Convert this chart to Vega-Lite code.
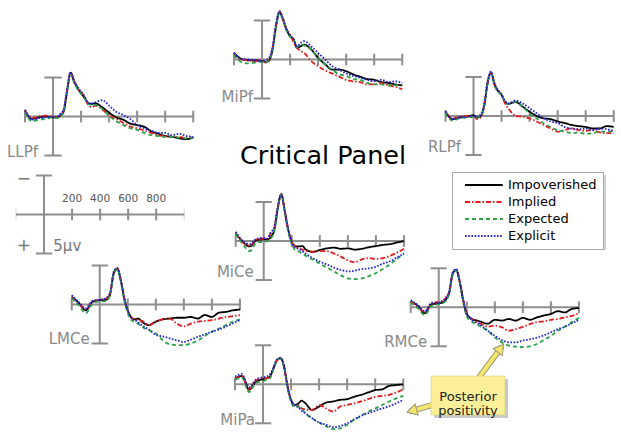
{
"$schema":"https://vega.github.io/schema/vega-lite/v6.json",
"width":621,"height":442,"padding":0,"autosize":{"type":"none"},
"config":{"view":{"stroke":null},"font":"DejaVu Sans","text":{"font":"DejaVu Sans"},"line":{"strokeWidth":1.8,"interpolate":"monotone"}},
"datasets":{
"ticks":[{"t":-200},{"t":200},{"t":400},{"t":600},{"t":800},{"t":1000}],
"erp":[
{"p":"LLPf","t":-200,"Impoverished":-0.8,"Implied":-0.7,"Expected":-0.6,"Explicit":-0.9},
{"p":"LLPf","t":-150,"Impoverished":0.3,"Implied":0.2,"Expected":0.6,"Explicit":0.4},
{"p":"LLPf","t":-100,"Impoverished":0.1,"Implied":0.0,"Expected":0.4,"Explicit":0.2},
{"p":"LLPf","t":-50,"Impoverished":0.0,"Implied":-0.1,"Expected":0.3,"Explicit":0.1},
{"p":"LLPf","t":0,"Impoverished":0.1,"Implied":0.0,"Expected":0.1,"Explicit":0.0},
{"p":"LLPf","t":25,"Impoverished":0.1,"Implied":0.1,"Expected":0.2,"Explicit":0.0},
{"p":"LLPf","t":50,"Impoverished":-0.1,"Implied":-0.2,"Expected":0.0,"Explicit":-0.3},
{"p":"LLPf","t":75,"Impoverished":-0.6,"Implied":-0.8,"Expected":-0.5,"Explicit":-0.9},
{"p":"LLPf","t":100,"Impoverished":-3.2,"Implied":-3.3,"Expected":-3.1,"Explicit":-3.5},
{"p":"LLPf","t":125,"Impoverished":-5.6,"Implied":-5.6,"Expected":-5.4,"Explicit":-5.7},
{"p":"LLPf","t":150,"Impoverished":-4.5,"Implied":-4.7,"Expected":-4.4,"Explicit":-4.6},
{"p":"LLPf","t":175,"Impoverished":-3.6,"Implied":-3.7,"Expected":-3.5,"Explicit":-3.8},
{"p":"LLPf","t":200,"Impoverished":-3.0,"Implied":-3.1,"Expected":-2.9,"Explicit":-3.2},
{"p":"LLPf","t":225,"Impoverished":-2.4,"Implied":-2.6,"Expected":-2.3,"Explicit":-2.6},
{"p":"LLPf","t":250,"Impoverished":-1.7,"Implied":-1.5,"Expected":-1.6,"Explicit":-1.8},
{"p":"LLPf","t":275,"Impoverished":-1.6,"Implied":-1.2,"Expected":-1.5,"Explicit":-1.7},
{"p":"LLPf","t":300,"Impoverished":-1.7,"Implied":-1.4,"Expected":-1.5,"Explicit":-1.8},
{"p":"LLPf","t":350,"Impoverished":-1.2,"Implied":-0.9,"Expected":-1.0,"Explicit":-2.1},
{"p":"LLPf","t":400,"Impoverished":-0.5,"Implied":-0.2,"Expected":-0.1,"Explicit":-1.4},
{"p":"LLPf","t":450,"Impoverished":0.1,"Implied":0.3,"Expected":0.6,"Explicit":-0.6},
{"p":"LLPf","t":500,"Impoverished":0.4,"Implied":0.8,"Expected":1.1,"Explicit":-0.2},
{"p":"LLPf","t":550,"Impoverished":0.9,"Implied":1.3,"Expected":1.5,"Explicit":0.3},
{"p":"LLPf","t":600,"Impoverished":1.1,"Implied":1.5,"Expected":1.7,"Explicit":1.1},
{"p":"LLPf","t":650,"Impoverished":1.3,"Implied":1.8,"Expected":2.1,"Explicit":1.5},
{"p":"LLPf","t":700,"Impoverished":1.9,"Implied":2.1,"Expected":2.4,"Explicit":1.8},
{"p":"LLPf","t":750,"Impoverished":2.2,"Implied":2.4,"Expected":2.5,"Explicit":2.1},
{"p":"LLPf","t":800,"Impoverished":2.5,"Implied":2.5,"Expected":2.6,"Explicit":2.1},
{"p":"LLPf","t":850,"Impoverished":2.6,"Implied":2.6,"Expected":2.6,"Explicit":2.4},
{"p":"LLPf","t":900,"Impoverished":2.8,"Implied":2.6,"Expected":2.7,"Explicit":2.2},
{"p":"LLPf","t":950,"Impoverished":2.9,"Implied":2.8,"Expected":2.8,"Explicit":2.5},
{"p":"LLPf","t":1000,"Impoverished":2.7,"Implied":2.6,"Expected":2.7,"Explicit":2.6},
{"p":"MiPf","t":-200,"Impoverished":-0.85,"Implied":-0.8,"Expected":-0.6,"Explicit":-0.9},
{"p":"MiPf","t":-150,"Impoverished":-0.1,"Implied":0.0,"Expected":0.3,"Explicit":-0.1},
{"p":"MiPf","t":-100,"Impoverished":0.1,"Implied":0.1,"Expected":0.5,"Explicit":0.0},
{"p":"MiPf","t":-50,"Impoverished":0.1,"Implied":0.2,"Expected":0.4,"Explicit":0.1},
{"p":"MiPf","t":0,"Impoverished":0.2,"Implied":0.1,"Expected":0.3,"Explicit":0.2},
{"p":"MiPf","t":25,"Impoverished":0.3,"Implied":0.4,"Expected":0.3,"Explicit":0.1},
{"p":"MiPf","t":50,"Impoverished":0.1,"Implied":0.0,"Expected":0.2,"Explicit":-0.2},
{"p":"MiPf","t":75,"Impoverished":-1.3,"Implied":-1.4,"Expected":-1.2,"Explicit":-1.6},
{"p":"MiPf","t":100,"Impoverished":-4.3,"Implied":-4.4,"Expected":-4.2,"Explicit":-4.6},
{"p":"MiPf","t":125,"Impoverished":-6.1,"Implied":-6.0,"Expected":-6.0,"Explicit":-6.2},
{"p":"MiPf","t":150,"Impoverished":-5.1,"Implied":-5.2,"Expected":-5.0,"Explicit":-5.2},
{"p":"MiPf","t":175,"Impoverished":-3.8,"Implied":-3.9,"Expected":-3.7,"Explicit":-3.9},
{"p":"MiPf","t":200,"Impoverished":-3.0,"Implied":-3.2,"Expected":-2.9,"Explicit":-3.1},
{"p":"MiPf","t":225,"Impoverished":-2.6,"Implied":-2.2,"Expected":-2.5,"Explicit":-2.6},
{"p":"MiPf","t":250,"Impoverished":-1.5,"Implied":-1.5,"Expected":-1.6,"Explicit":-1.7},
{"p":"MiPf","t":275,"Impoverished":-1.7,"Implied":-1.1,"Expected":-1.9,"Explicit":-2.1},
{"p":"MiPf","t":300,"Impoverished":-1.9,"Implied":-0.85,"Expected":-1.8,"Explicit":-2.35},
{"p":"MiPf","t":350,"Impoverished":-1.3,"Implied":0.2,"Expected":-1.3,"Explicit":-1.7},
{"p":"MiPf","t":400,"Impoverished":-0.2,"Implied":0.85,"Expected":-0.2,"Explicit":-0.85},
{"p":"MiPf","t":450,"Impoverished":0.6,"Implied":1.4,"Expected":0.6,"Explicit":0.0},
{"p":"MiPf","t":500,"Impoverished":1.3,"Implied":1.8,"Expected":1.3,"Explicit":0.85},
{"p":"MiPf","t":550,"Impoverished":1.3,"Implied":2.2,"Expected":1.9,"Explicit":1.3},
{"p":"MiPf","t":600,"Impoverished":1.5,"Implied":2.6,"Expected":2.1,"Explicit":1.8},
{"p":"MiPf","t":650,"Impoverished":1.9,"Implied":2.8,"Expected":2.5,"Explicit":2.1},
{"p":"MiPf","t":700,"Impoverished":2.2,"Implied":2.9,"Expected":2.6,"Explicit":2.35},
{"p":"MiPf","t":750,"Impoverished":2.5,"Implied":3.2,"Expected":3.0,"Explicit":2.6},
{"p":"MiPf","t":800,"Impoverished":2.6,"Implied":3.2,"Expected":3.2,"Explicit":2.8},
{"p":"MiPf","t":850,"Impoverished":2.9,"Implied":3.0,"Expected":3.2,"Explicit":2.6},
{"p":"MiPf","t":900,"Impoverished":3.0,"Implied":3.3,"Expected":3.3,"Explicit":2.9},
{"p":"MiPf","t":950,"Impoverished":3.2,"Implied":3.5,"Expected":3.3,"Explicit":2.8},
{"p":"MiPf","t":1000,"Impoverished":3.3,"Implied":3.8,"Expected":3.4,"Explicit":3.0},
{"p":"RLPf","t":-200,"Impoverished":-0.55,"Implied":-0.5,"Expected":-0.4,"Explicit":-0.6},
{"p":"RLPf","t":-150,"Impoverished":0.4,"Implied":0.3,"Expected":0.6,"Explicit":0.4},
{"p":"RLPf","t":-100,"Impoverished":0.2,"Implied":0.1,"Expected":0.3,"Explicit":0.2},
{"p":"RLPf","t":-50,"Impoverished":0.1,"Implied":0.0,"Expected":0.2,"Explicit":0.1},
{"p":"RLPf","t":0,"Impoverished":-0.1,"Implied":0.0,"Expected":0.1,"Explicit":0.0},
{"p":"RLPf","t":25,"Impoverished":0.2,"Implied":0.4,"Expected":0.2,"Explicit":0.1},
{"p":"RLPf","t":50,"Impoverished":0.0,"Implied":0.2,"Expected":0.0,"Explicit":-0.2},
{"p":"RLPf","t":75,"Impoverished":-1.2,"Implied":-1.3,"Expected":-1.1,"Explicit":-1.4},
{"p":"RLPf","t":100,"Impoverished":-4.2,"Implied":-4.3,"Expected":-4.1,"Explicit":-4.4},
{"p":"RLPf","t":125,"Impoverished":-5.6,"Implied":-5.5,"Expected":-5.5,"Explicit":-5.7},
{"p":"RLPf","t":150,"Impoverished":-4.0,"Implied":-4.2,"Expected":-3.9,"Explicit":-4.1},
{"p":"RLPf","t":175,"Impoverished":-3.2,"Implied":-3.3,"Expected":-3.1,"Explicit":-3.3},
{"p":"RLPf","t":200,"Impoverished":-2.7,"Implied":-2.6,"Expected":-2.7,"Explicit":-2.8},
{"p":"RLPf","t":225,"Impoverished":-1.8,"Implied":-1.6,"Expected":-1.8,"Explicit":-1.9},
{"p":"RLPf","t":250,"Impoverished":-1.55,"Implied":-0.9,"Expected":-1.55,"Explicit":-1.6},
{"p":"RLPf","t":275,"Impoverished":-1.7,"Implied":-0.4,"Expected":-1.6,"Explicit":-1.8},
{"p":"RLPf","t":300,"Impoverished":-1.8,"Implied":0.0,"Expected":-1.8,"Explicit":-2.0},
{"p":"RLPf","t":350,"Impoverished":-1.2,"Implied":0.1,"Expected":-1.2,"Explicit":-1.6},
{"p":"RLPf","t":400,"Impoverished":-0.55,"Implied":0.3,"Expected":-0.35,"Explicit":-1.0},
{"p":"RLPf","t":450,"Impoverished":0.0,"Implied":0.7,"Expected":0.3,"Explicit":-0.35},
{"p":"RLPf","t":500,"Impoverished":0.3,"Implied":1.15,"Expected":0.95,"Explicit":0.3},
{"p":"RLPf","t":550,"Impoverished":0.4,"Implied":1.6,"Expected":1.4,"Explicit":0.7},
{"p":"RLPf","t":600,"Impoverished":0.7,"Implied":2.0,"Expected":1.8,"Explicit":0.9},
{"p":"RLPf","t":650,"Impoverished":0.9,"Implied":1.8,"Expected":2.0,"Explicit":1.4},
{"p":"RLPf","t":700,"Impoverished":1.15,"Implied":1.6,"Expected":2.2,"Explicit":1.6},
{"p":"RLPf","t":750,"Impoverished":1.3,"Implied":1.8,"Expected":2.1,"Explicit":1.7},
{"p":"RLPf","t":800,"Impoverished":1.4,"Implied":1.9,"Expected":2.3,"Explicit":1.6},
{"p":"RLPf","t":850,"Impoverished":1.6,"Implied":1.8,"Expected":2.2,"Explicit":1.8},
{"p":"RLPf","t":900,"Impoverished":1.6,"Implied":2.1,"Expected":2.0,"Explicit":1.6},
{"p":"RLPf","t":950,"Impoverished":1.3,"Implied":2.2,"Expected":2.0,"Explicit":1.7},
{"p":"RLPf","t":1000,"Impoverished":1.4,"Implied":2.2,"Expected":1.9,"Explicit":1.9},
{"p":"MiCe","t":-200,"Impoverished":-1.0,"Implied":-1.0,"Expected":-0.9,"Explicit":-1.2},
{"p":"MiCe","t":-150,"Impoverished":0.1,"Implied":0.2,"Expected":0.4,"Explicit":0.0},
{"p":"MiCe","t":-100,"Impoverished":0.7,"Implied":0.6,"Expected":1.3,"Explicit":0.4},
{"p":"MiCe","t":-50,"Impoverished":-0.1,"Implied":-0.2,"Expected":0.2,"Explicit":-0.3},
{"p":"MiCe","t":0,"Impoverished":-0.2,"Implied":-0.3,"Expected":0.1,"Explicit":-0.4},
{"p":"MiCe","t":25,"Impoverished":-0.2,"Implied":-0.3,"Expected":0.0,"Explicit":-0.3},
{"p":"MiCe","t":50,"Impoverished":-0.5,"Implied":-1.0,"Expected":-0.3,"Explicit":-1.1},
{"p":"MiCe","t":75,"Impoverished":-1.4,"Implied":-1.6,"Expected":-1.3,"Explicit":-1.8},
{"p":"MiCe","t":100,"Impoverished":-4.2,"Implied":-4.3,"Expected":-4.1,"Explicit":-4.4},
{"p":"MiCe","t":125,"Impoverished":-6.0,"Implied":-6.0,"Expected":-5.9,"Explicit":-6.0},
{"p":"MiCe","t":150,"Impoverished":-3.8,"Implied":-3.9,"Expected":-3.7,"Explicit":-3.8},
{"p":"MiCe","t":175,"Impoverished":-1.4,"Implied":-1.5,"Expected":-1.2,"Explicit":-1.4},
{"p":"MiCe","t":200,"Impoverished":0.1,"Implied":0.1,"Expected":0.4,"Explicit":0.2},
{"p":"MiCe","t":225,"Impoverished":0.7,"Implied":0.7,"Expected":1.15,"Explicit":0.8},
{"p":"MiCe","t":250,"Impoverished":0.7,"Implied":0.95,"Expected":1.35,"Explicit":1.0},
{"p":"MiCe","t":275,"Impoverished":0.65,"Implied":1.1,"Expected":1.6,"Explicit":1.3},
{"p":"MiCe","t":300,"Impoverished":1.1,"Implied":1.25,"Expected":1.9,"Explicit":1.65},
{"p":"MiCe","t":350,"Impoverished":1.4,"Implied":1.35,"Expected":2.4,"Explicit":2.2},
{"p":"MiCe","t":400,"Impoverished":1.15,"Implied":1.3,"Expected":2.9,"Explicit":2.65},
{"p":"MiCe","t":450,"Impoverished":0.95,"Implied":1.3,"Expected":3.4,"Explicit":3.0},
{"p":"MiCe","t":500,"Impoverished":0.85,"Implied":1.6,"Expected":3.9,"Explicit":3.4},
{"p":"MiCe","t":550,"Impoverished":1.0,"Implied":2.0,"Expected":4.4,"Explicit":3.7},
{"p":"MiCe","t":600,"Impoverished":0.95,"Implied":2.5,"Expected":4.8,"Explicit":3.9},
{"p":"MiCe","t":650,"Impoverished":1.1,"Implied":2.7,"Expected":4.9,"Explicit":3.8},
{"p":"MiCe","t":700,"Impoverished":1.0,"Implied":2.35,"Expected":4.8,"Explicit":3.6},
{"p":"MiCe","t":750,"Impoverished":0.8,"Implied":2.2,"Expected":4.5,"Explicit":3.5},
{"p":"MiCe","t":800,"Impoverished":0.65,"Implied":2.3,"Expected":4.1,"Explicit":3.3},
{"p":"MiCe","t":850,"Impoverished":0.5,"Implied":2.2,"Expected":3.6,"Explicit":2.9},
{"p":"MiCe","t":900,"Impoverished":0.4,"Implied":1.9,"Expected":3.0,"Explicit":2.6},
{"p":"MiCe","t":950,"Impoverished":0.2,"Implied":1.5,"Expected":2.3,"Explicit":2.1},
{"p":"MiCe","t":1000,"Impoverished":0.0,"Implied":1.0,"Expected":1.6,"Explicit":1.6},
{"p":"LMCe","t":-200,"Impoverished":-1.0,"Implied":-0.9,"Expected":-0.8,"Explicit":-1.2},
{"p":"LMCe","t":-150,"Impoverished":-0.2,"Implied":-0.1,"Expected":0.1,"Explicit":-0.3},
{"p":"LMCe","t":-100,"Impoverished":0.75,"Implied":0.6,"Expected":1.1,"Explicit":0.5},
{"p":"LMCe","t":-50,"Impoverished":-0.35,"Implied":-0.4,"Expected":-0.1,"Explicit":-0.5},
{"p":"LMCe","t":0,"Impoverished":-0.55,"Implied":-0.6,"Expected":-0.4,"Explicit":-0.6},
{"p":"LMCe","t":25,"Impoverished":-0.55,"Implied":-0.7,"Expected":-0.4,"Explicit":-0.7},
{"p":"LMCe","t":50,"Impoverished":-0.65,"Implied":-0.8,"Expected":-0.5,"Explicit":-0.9},
{"p":"LMCe","t":75,"Impoverished":-1.4,"Implied":-1.5,"Expected":-1.3,"Explicit":-1.6},
{"p":"LMCe","t":100,"Impoverished":-4.0,"Implied":-4.1,"Expected":-3.9,"Explicit":-4.2},
{"p":"LMCe","t":125,"Impoverished":-4.6,"Implied":-4.6,"Expected":-4.5,"Explicit":-4.7},
{"p":"LMCe","t":150,"Impoverished":-3.1,"Implied":-3.2,"Expected":-3.0,"Explicit":-3.2},
{"p":"LMCe","t":175,"Impoverished":-0.75,"Implied":-0.8,"Expected":-0.5,"Explicit":-0.8},
{"p":"LMCe","t":200,"Impoverished":0.75,"Implied":0.8,"Expected":1.1,"Explicit":0.8},
{"p":"LMCe","t":225,"Impoverished":1.65,"Implied":1.7,"Expected":2.0,"Explicit":1.7},
{"p":"LMCe","t":250,"Impoverished":1.9,"Implied":1.9,"Expected":2.2,"Explicit":2.0},
{"p":"LMCe","t":275,"Impoverished":1.8,"Implied":2.0,"Expected":2.5,"Explicit":2.3},
{"p":"LMCe","t":300,"Impoverished":2.2,"Implied":2.1,"Expected":2.85,"Explicit":2.65},
{"p":"LMCe","t":350,"Impoverished":2.65,"Implied":2.65,"Expected":3.3,"Explicit":3.2},
{"p":"LMCe","t":400,"Impoverished":2.2,"Implied":2.2,"Expected":3.7,"Explicit":3.9},
{"p":"LMCe","t":450,"Impoverished":1.9,"Implied":1.9,"Expected":4.6,"Explicit":4.1},
{"p":"LMCe","t":500,"Impoverished":1.8,"Implied":1.8,"Expected":5.1,"Explicit":4.35},
{"p":"LMCe","t":550,"Impoverished":1.7,"Implied":2.45,"Expected":5.2,"Explicit":4.6},
{"p":"LMCe","t":600,"Impoverished":1.7,"Implied":2.8,"Expected":5.2,"Explicit":4.8},
{"p":"LMCe","t":650,"Impoverished":1.6,"Implied":2.45,"Expected":5.0,"Explicit":4.5},
{"p":"LMCe","t":700,"Impoverished":1.8,"Implied":2.2,"Expected":4.6,"Explicit":4.15},
{"p":"LMCe","t":750,"Impoverished":1.35,"Implied":2.1,"Expected":4.05,"Explicit":3.8},
{"p":"LMCe","t":800,"Impoverished":1.6,"Implied":2.0,"Expected":3.5,"Explicit":3.5},
{"p":"LMCe","t":850,"Impoverished":1.05,"Implied":1.8,"Expected":3.1,"Explicit":3.2},
{"p":"LMCe","t":900,"Impoverished":0.95,"Implied":1.6,"Expected":2.65,"Explicit":2.85},
{"p":"LMCe","t":950,"Impoverished":0.75,"Implied":1.5,"Expected":2.2,"Explicit":2.4},
{"p":"LMCe","t":1000,"Impoverished":0.65,"Implied":1.35,"Expected":1.9,"Explicit":2.0},
{"p":"RMCe","t":-200,"Impoverished":-0.75,"Implied":-0.7,"Expected":-0.6,"Explicit":-0.9},
{"p":"RMCe","t":-150,"Impoverished":-0.2,"Implied":-0.1,"Expected":0.1,"Explicit":-0.3},
{"p":"RMCe","t":-100,"Impoverished":0.75,"Implied":0.6,"Expected":1.0,"Explicit":0.5},
{"p":"RMCe","t":-50,"Impoverished":-0.4,"Implied":-0.5,"Expected":-0.2,"Explicit":-0.6},
{"p":"RMCe","t":0,"Impoverished":-0.5,"Implied":-0.7,"Expected":-0.4,"Explicit":-0.6},
{"p":"RMCe","t":25,"Impoverished":-0.6,"Implied":-0.8,"Expected":-0.5,"Explicit":-0.8},
{"p":"RMCe","t":50,"Impoverished":-0.95,"Implied":-1.2,"Expected":-0.8,"Explicit":-1.2},
{"p":"RMCe","t":75,"Impoverished":-1.9,"Implied":-2.0,"Expected":-1.8,"Explicit":-2.1},
{"p":"RMCe","t":100,"Impoverished":-4.3,"Implied":-4.4,"Expected":-4.2,"Explicit":-4.5},
{"p":"RMCe","t":125,"Impoverished":-4.8,"Implied":-4.8,"Expected":-4.7,"Explicit":-4.9},
{"p":"RMCe","t":150,"Impoverished":-3.2,"Implied":-3.3,"Expected":-3.1,"Explicit":-3.3},
{"p":"RMCe","t":175,"Impoverished":-0.85,"Implied":-0.9,"Expected":-0.6,"Explicit":-0.9},
{"p":"RMCe","t":200,"Impoverished":0.85,"Implied":0.9,"Expected":1.2,"Explicit":0.9},
{"p":"RMCe","t":225,"Impoverished":1.35,"Implied":1.4,"Expected":1.7,"Explicit":1.4},
{"p":"RMCe","t":250,"Impoverished":1.6,"Implied":1.7,"Expected":2.0,"Explicit":1.8},
{"p":"RMCe","t":275,"Impoverished":1.7,"Implied":1.9,"Expected":2.2,"Explicit":2.0},
{"p":"RMCe","t":300,"Impoverished":1.85,"Implied":2.1,"Expected":2.5,"Explicit":2.3},
{"p":"RMCe","t":350,"Impoverished":2.1,"Implied":2.5,"Expected":3.0,"Explicit":3.0},
{"p":"RMCe","t":400,"Impoverished":1.6,"Implied":2.35,"Expected":3.85,"Explicit":3.65},
{"p":"RMCe","t":450,"Impoverished":1.7,"Implied":2.55,"Expected":4.5,"Explicit":4.2},
{"p":"RMCe","t":500,"Impoverished":1.5,"Implied":3.0,"Expected":4.9,"Explicit":4.5},
{"p":"RMCe","t":550,"Impoverished":1.7,"Implied":2.8,"Expected":5.05,"Explicit":4.5},
{"p":"RMCe","t":600,"Impoverished":1.35,"Implied":2.5,"Expected":5.1,"Explicit":4.25},
{"p":"RMCe","t":650,"Impoverished":1.6,"Implied":2.15,"Expected":5.0,"Explicit":4.1},
{"p":"RMCe","t":700,"Impoverished":1.3,"Implied":1.9,"Expected":4.7,"Explicit":3.9},
{"p":"RMCe","t":750,"Impoverished":1.05,"Implied":1.8,"Expected":4.2,"Explicit":3.6},
{"p":"RMCe","t":800,"Impoverished":0.85,"Implied":1.6,"Expected":3.65,"Explicit":3.2},
{"p":"RMCe","t":850,"Impoverished":0.5,"Implied":1.5,"Expected":3.0,"Explicit":2.8},
{"p":"RMCe","t":900,"Impoverished":0.65,"Implied":1.3,"Expected":2.5,"Explicit":2.5},
{"p":"RMCe","t":950,"Impoverished":0.2,"Implied":1.1,"Expected":1.9,"Explicit":2.05},
{"p":"RMCe","t":1000,"Impoverished":0.1,"Implied":0.75,"Expected":1.35,"Explicit":1.6},
{"p":"MiPa","t":-200,"Impoverished":-0.75,"Implied":-0.7,"Expected":-0.6,"Explicit":-1.0},
{"p":"MiPa","t":-150,"Impoverished":-1.05,"Implied":-1.0,"Expected":-0.8,"Explicit":-1.3},
{"p":"MiPa","t":-100,"Impoverished":0.7,"Implied":0.6,"Expected":1.0,"Explicit":0.4},
{"p":"MiPa","t":-50,"Impoverished":-0.35,"Implied":-0.5,"Expected":-0.2,"Explicit":-0.6},
{"p":"MiPa","t":0,"Impoverished":-0.65,"Implied":-0.8,"Expected":-0.4,"Explicit":-0.9},
{"p":"MiPa","t":25,"Impoverished":-0.75,"Implied":-0.8,"Expected":-0.6,"Explicit":-1.0},
{"p":"MiPa","t":50,"Impoverished":-1.0,"Implied":-1.1,"Expected":-0.8,"Explicit":-1.3},
{"p":"MiPa","t":75,"Impoverished":-2.05,"Implied":-2.1,"Expected":-2.0,"Explicit":-2.2},
{"p":"MiPa","t":100,"Impoverished":-3.1,"Implied":-3.1,"Expected":-3.0,"Explicit":-3.2},
{"p":"MiPa","t":125,"Impoverished":-3.35,"Implied":-3.3,"Expected":-3.3,"Explicit":-3.4},
{"p":"MiPa","t":150,"Impoverished":-2.25,"Implied":-2.3,"Expected":-2.2,"Explicit":-2.3},
{"p":"MiPa","t":175,"Impoverished":0.3,"Implied":0.3,"Expected":0.5,"Explicit":0.3},
{"p":"MiPa","t":200,"Impoverished":2.0,"Implied":2.0,"Expected":2.3,"Explicit":2.0},
{"p":"MiPa","t":225,"Impoverished":2.65,"Implied":2.7,"Expected":2.9,"Explicit":2.7},
{"p":"MiPa","t":250,"Impoverished":2.5,"Implied":2.7,"Expected":2.9,"Explicit":2.9},
{"p":"MiPa","t":275,"Impoverished":2.1,"Implied":3.1,"Expected":3.1,"Explicit":3.4},
{"p":"MiPa","t":300,"Impoverished":2.4,"Implied":3.2,"Expected":3.7,"Explicit":3.7},
{"p":"MiPa","t":350,"Impoverished":3.3,"Implied":3.3,"Expected":4.35,"Explicit":4.35},
{"p":"MiPa","t":400,"Impoverished":2.85,"Implied":2.65,"Expected":4.9,"Explicit":4.9},
{"p":"MiPa","t":450,"Impoverished":2.35,"Implied":3.1,"Expected":5.4,"Explicit":5.2},
{"p":"MiPa","t":500,"Impoverished":2.2,"Implied":3.5,"Expected":5.75,"Explicit":5.5},
{"p":"MiPa","t":550,"Impoverished":2.0,"Implied":2.85,"Expected":5.65,"Explicit":5.35},
{"p":"MiPa","t":600,"Impoverished":1.9,"Implied":2.65,"Expected":5.2,"Explicit":5.0},
{"p":"MiPa","t":650,"Impoverished":1.6,"Implied":2.45,"Expected":4.55,"Explicit":4.5},
{"p":"MiPa","t":700,"Impoverished":1.35,"Implied":2.2,"Expected":4.05,"Explicit":4.05},
{"p":"MiPa","t":750,"Impoverished":1.05,"Implied":1.9,"Expected":3.5,"Explicit":3.7},
{"p":"MiPa","t":800,"Impoverished":0.75,"Implied":1.6,"Expected":3.1,"Explicit":3.4},
{"p":"MiPa","t":850,"Impoverished":0.65,"Implied":1.5,"Expected":2.65,"Explicit":3.1},
{"p":"MiPa","t":900,"Impoverished":0.2,"Implied":1.35,"Expected":2.2,"Explicit":2.8},
{"p":"MiPa","t":950,"Impoverished":0.1,"Implied":1.05,"Expected":1.8,"Explicit":2.45},
{"p":"MiPa","t":1000,"Impoverished":0.0,"Implied":0.65,"Expected":1.5,"Explicit":2.0}
]},
"resolve":{"scale":{"x":"independent","y":"independent"}},
"layer":[
{"data":{"values":[{}]},"layer":[
 {"data":{"name":"ticks"},"mark":{"type":"rule","color":"#8e8e8e","strokeWidth":2},"encoding":{"x":{"field":"t","type":"quantitative","scale":{"domain":[-378.3,4051.1],"nice":false,"zero":false},"axis":null},"y":{"datum":-0.75,"scale":{"domain":[-14.94,41.73],"reverse":true,"nice":false,"zero":false},"axis":null},"y2":{"datum":0.75}}},
 {"mark":{"type":"rule","color":"#8e8e8e","strokeWidth":2},"encoding":{"x":{"datum":-200,"scale":{"domain":[-378.3,4051.1],"nice":false,"zero":false},"axis":null},"x2":{"datum":1000},"y":{"datum":0,"scale":{"domain":[-14.94,41.73],"reverse":true,"nice":false,"zero":false},"axis":null}}},
 {"mark":{"type":"rule","color":"#8e8e8e","strokeWidth":2},"encoding":{"x":{"datum":0,"scale":{"domain":[-378.3,4051.1],"nice":false,"zero":false},"axis":null},"y":{"datum":-5,"scale":{"domain":[-14.94,41.73],"reverse":true,"nice":false,"zero":false},"axis":null},"y2":{"datum":5}}},
 {"mark":{"type":"rule","color":"#8e8e8e","strokeWidth":2},"encoding":{"x":{"datum":-62,"scale":{"domain":[-378.3,4051.1],"nice":false,"zero":false},"axis":null},"x2":{"datum":62},"y":{"datum":-5,"scale":{"domain":[-14.94,41.73],"reverse":true,"nice":false,"zero":false},"axis":null}}},
 {"mark":{"type":"rule","color":"#8e8e8e","strokeWidth":2},"encoding":{"x":{"datum":-62,"scale":{"domain":[-378.3,4051.1],"nice":false,"zero":false},"axis":null},"x2":{"datum":62},"y":{"datum":5,"scale":{"domain":[-14.94,41.73],"reverse":true,"nice":false,"zero":false},"axis":null}}},
 {"mark":{"type":"text","text":"LLPf","align":"right","baseline":"alphabetic","dx":-15,"dy":1,"fontSize":15,"color":"#8a8a8a"},"encoding":{"x":{"datum":0,"scale":{"domain":[-378.3,4051.1],"nice":false,"zero":false},"axis":null},"y":{"datum":5,"scale":{"domain":[-14.94,41.73],"reverse":true,"nice":false,"zero":false},"axis":null}}},
 {"data":{"name":"erp"},"transform":[{"filter":"datum.p === 'LLPf'"},{"fold":["Impoverished","Implied","Expected","Explicit"],"as":["cond","uv"]}],"mark":{"type":"line"},"encoding":{"x":{"field":"t","type":"quantitative","scale":{"domain":[-378.3,4051.1],"nice":false,"zero":false},"axis":null},"y":{"field":"uv","type":"quantitative","scale":{"domain":[-14.94,41.73],"reverse":true,"nice":false,"zero":false},"axis":null},"color":{"field":"cond","type":"nominal","scale":{"domain":["Impoverished","Implied","Expected","Explicit"],"range":["#000000","#e41a1c","#2ca048","#1f24d6"]},"legend":{"title":null,"orient":"none","legendX":452,"legendY":172,"padding":6,"strokeColor":"#a8a8a8","fillColor":"#ffffff","symbolType":"M0,0H6.3","symbolSize":144,"symbolStrokeWidth":1.8,"labelFontSize":13,"labelColor":"#000000","labelFont":"DejaVu Sans","labelOffset":36,"rowPadding":3}},"strokeDash":{"field":"cond","type":"nominal","scale":{"domain":["Impoverished","Implied","Expected","Explicit"],"range":[[1,0],[5,2,1.5,2],[4,3],[1.6,1.6]]},"legend":{"title":null,"orient":"none","legendX":452,"legendY":172,"padding":6,"strokeColor":"#a8a8a8","fillColor":"#ffffff","symbolType":"M0,0H6.3","symbolSize":144,"symbolStrokeWidth":1.8,"labelFontSize":13,"labelColor":"#000000","labelFont":"DejaVu Sans","labelOffset":36,"rowPadding":3}}}}
]},
{"data":{"values":[{}]},"layer":[
 {"data":{"name":"ticks"},"mark":{"type":"rule","color":"#8e8e8e","strokeWidth":2},"encoding":{"x":{"field":"t","type":"quantitative","scale":{"domain":[-1869.0,2560.3],"nice":false,"zero":false},"axis":null},"y":{"datum":-0.75,"scale":{"domain":[-7.63,49.04],"reverse":true,"nice":false,"zero":false},"axis":null},"y2":{"datum":0.75}}},
 {"mark":{"type":"rule","color":"#8e8e8e","strokeWidth":2},"encoding":{"x":{"datum":-200,"scale":{"domain":[-1869.0,2560.3],"nice":false,"zero":false},"axis":null},"x2":{"datum":1000},"y":{"datum":0,"scale":{"domain":[-7.63,49.04],"reverse":true,"nice":false,"zero":false},"axis":null}}},
 {"mark":{"type":"rule","color":"#8e8e8e","strokeWidth":2},"encoding":{"x":{"datum":0,"scale":{"domain":[-1869.0,2560.3],"nice":false,"zero":false},"axis":null},"y":{"datum":-5,"scale":{"domain":[-7.63,49.04],"reverse":true,"nice":false,"zero":false},"axis":null},"y2":{"datum":5}}},
 {"mark":{"type":"rule","color":"#8e8e8e","strokeWidth":2},"encoding":{"x":{"datum":-58,"scale":{"domain":[-1869.0,2560.3],"nice":false,"zero":false},"axis":null},"x2":{"datum":58},"y":{"datum":-5,"scale":{"domain":[-7.63,49.04],"reverse":true,"nice":false,"zero":false},"axis":null}}},
 {"mark":{"type":"rule","color":"#8e8e8e","strokeWidth":2},"encoding":{"x":{"datum":-58,"scale":{"domain":[-1869.0,2560.3],"nice":false,"zero":false},"axis":null},"x2":{"datum":58},"y":{"datum":5,"scale":{"domain":[-7.63,49.04],"reverse":true,"nice":false,"zero":false},"axis":null}}},
 {"mark":{"type":"text","text":"MiPf","align":"right","baseline":"alphabetic","dx":-9,"dy":3,"fontSize":15,"color":"#8a8a8a"},"encoding":{"x":{"datum":0,"scale":{"domain":[-1869.0,2560.3],"nice":false,"zero":false},"axis":null},"y":{"datum":5,"scale":{"domain":[-7.63,49.04],"reverse":true,"nice":false,"zero":false},"axis":null}}},
 {"data":{"name":"erp"},"transform":[{"filter":"datum.p === 'MiPf'"},{"fold":["Impoverished","Implied","Expected","Explicit"],"as":["cond","uv"]}],"mark":{"type":"line"},"encoding":{"x":{"field":"t","type":"quantitative","scale":{"domain":[-1869.0,2560.3],"nice":false,"zero":false},"axis":null},"y":{"field":"uv","type":"quantitative","scale":{"domain":[-7.63,49.04],"reverse":true,"nice":false,"zero":false},"axis":null},"color":{"field":"cond","type":"nominal","scale":{"domain":["Impoverished","Implied","Expected","Explicit"],"range":["#000000","#e41a1c","#2ca048","#1f24d6"]},"legend":{"title":null,"orient":"none","legendX":452,"legendY":172,"padding":6,"strokeColor":"#a8a8a8","fillColor":"#ffffff","symbolType":"M0,0H6.3","symbolSize":144,"symbolStrokeWidth":1.8,"labelFontSize":13,"labelColor":"#000000","labelFont":"DejaVu Sans","labelOffset":36,"rowPadding":3}},"strokeDash":{"field":"cond","type":"nominal","scale":{"domain":["Impoverished","Implied","Expected","Explicit"],"range":[[1,0],[5,2,1.5,2],[4,3],[1.6,1.6]]},"legend":{"title":null,"orient":"none","legendX":452,"legendY":172,"padding":6,"strokeColor":"#a8a8a8","fillColor":"#ffffff","symbolType":"M0,0H6.3","symbolSize":144,"symbolStrokeWidth":1.8,"labelFontSize":13,"labelColor":"#000000","labelFont":"DejaVu Sans","labelOffset":36,"rowPadding":3}}}}
]},
{"data":{"values":[{}]},"layer":[
 {"mark":{"type":"rect","color":"#c4c4c4","opacity":0.8},"encoding":{"x":{"datum":-132,"scale":{"domain":[-3377.6,1051.8],"nice":false,"zero":false},"axis":null},"x2":{"datum":945.8},"y":{"datum":7.56,"scale":{"domain":[-14.87,41.79],"reverse":true,"nice":false,"zero":false},"axis":null},"y2":{"datum":17.18}}},
 {"data":{"name":"ticks"},"mark":{"type":"rule","color":"#8e8e8e","strokeWidth":2},"encoding":{"x":{"field":"t","type":"quantitative","scale":{"domain":[-3377.6,1051.8],"nice":false,"zero":false},"axis":null},"y":{"datum":-0.75,"scale":{"domain":[-14.87,41.79],"reverse":true,"nice":false,"zero":false},"axis":null},"y2":{"datum":0.75}}},
 {"mark":{"type":"rule","color":"#8e8e8e","strokeWidth":2},"encoding":{"x":{"datum":-200,"scale":{"domain":[-3377.6,1051.8],"nice":false,"zero":false},"axis":null},"x2":{"datum":1000},"y":{"datum":0,"scale":{"domain":[-14.87,41.79],"reverse":true,"nice":false,"zero":false},"axis":null}}},
 {"mark":{"type":"rule","color":"#8e8e8e","strokeWidth":2},"encoding":{"x":{"datum":0,"scale":{"domain":[-3377.6,1051.8],"nice":false,"zero":false},"axis":null},"y":{"datum":-5,"scale":{"domain":[-14.87,41.79],"reverse":true,"nice":false,"zero":false},"axis":null},"y2":{"datum":5}}},
 {"mark":{"type":"rule","color":"#8e8e8e","strokeWidth":2},"encoding":{"x":{"datum":-58,"scale":{"domain":[-3377.6,1051.8],"nice":false,"zero":false},"axis":null},"x2":{"datum":58},"y":{"datum":-5,"scale":{"domain":[-14.87,41.79],"reverse":true,"nice":false,"zero":false},"axis":null}}},
 {"mark":{"type":"rule","color":"#8e8e8e","strokeWidth":2},"encoding":{"x":{"datum":-58,"scale":{"domain":[-3377.6,1051.8],"nice":false,"zero":false},"axis":null},"x2":{"datum":58},"y":{"datum":5,"scale":{"domain":[-14.87,41.79],"reverse":true,"nice":false,"zero":false},"axis":null}}},
 {"mark":{"type":"text","text":"RLPf","align":"right","baseline":"alphabetic","dx":-12.5,"dy":-3.5,"fontSize":15,"color":"#8a8a8a"},"encoding":{"x":{"datum":0,"scale":{"domain":[-3377.6,1051.8],"nice":false,"zero":false},"axis":null},"y":{"datum":5,"scale":{"domain":[-14.87,41.79],"reverse":true,"nice":false,"zero":false},"axis":null}}},
 {"data":{"name":"erp"},"transform":[{"filter":"datum.p === 'RLPf'"},{"fold":["Impoverished","Implied","Expected","Explicit"],"as":["cond","uv"]}],"mark":{"type":"line"},"encoding":{"x":{"field":"t","type":"quantitative","scale":{"domain":[-3377.6,1051.8],"nice":false,"zero":false},"axis":null},"y":{"field":"uv","type":"quantitative","scale":{"domain":[-14.87,41.79],"reverse":true,"nice":false,"zero":false},"axis":null},"color":{"field":"cond","type":"nominal","scale":{"domain":["Impoverished","Implied","Expected","Explicit"],"range":["#000000","#e41a1c","#2ca048","#1f24d6"]},"legend":{"title":null,"orient":"none","legendX":452,"legendY":172,"padding":6,"strokeColor":"#a8a8a8","fillColor":"#ffffff","symbolType":"M0,0H6.3","symbolSize":144,"symbolStrokeWidth":1.8,"labelFontSize":13,"labelColor":"#000000","labelFont":"DejaVu Sans","labelOffset":36,"rowPadding":3}},"strokeDash":{"field":"cond","type":"nominal","scale":{"domain":["Impoverished","Implied","Expected","Explicit"],"range":[[1,0],[5,2,1.5,2],[4,3],[1.6,1.6]]},"legend":{"title":null,"orient":"none","legendX":452,"legendY":172,"padding":6,"strokeColor":"#a8a8a8","fillColor":"#ffffff","symbolType":"M0,0H6.3","symbolSize":144,"symbolStrokeWidth":1.8,"labelFontSize":13,"labelColor":"#000000","labelFont":"DejaVu Sans","labelOffset":36,"rowPadding":3}}}}
]},
{"data":{"values":[{}]},"layer":[
 {"data":{"name":"ticks"},"mark":{"type":"rule","color":"#8e8e8e","strokeWidth":2},"encoding":{"x":{"field":"t","type":"quantitative","scale":{"domain":[-1881.2,2548.2],"nice":false,"zero":false},"axis":null},"y":{"datum":-0.75,"scale":{"domain":[-30.9,25.77],"reverse":true,"nice":false,"zero":false},"axis":null},"y2":{"datum":0.75}}},
 {"mark":{"type":"rule","color":"#8e8e8e","strokeWidth":2},"encoding":{"x":{"datum":-200,"scale":{"domain":[-1881.2,2548.2],"nice":false,"zero":false},"axis":null},"x2":{"datum":1000},"y":{"datum":0,"scale":{"domain":[-30.9,25.77],"reverse":true,"nice":false,"zero":false},"axis":null}}},
 {"mark":{"type":"rule","color":"#8e8e8e","strokeWidth":2},"encoding":{"x":{"datum":0,"scale":{"domain":[-1881.2,2548.2],"nice":false,"zero":false},"axis":null},"y":{"datum":-5,"scale":{"domain":[-30.9,25.77],"reverse":true,"nice":false,"zero":false},"axis":null},"y2":{"datum":5}}},
 {"mark":{"type":"rule","color":"#8e8e8e","strokeWidth":2},"encoding":{"x":{"datum":-58,"scale":{"domain":[-1881.2,2548.2],"nice":false,"zero":false},"axis":null},"x2":{"datum":58},"y":{"datum":-5,"scale":{"domain":[-30.9,25.77],"reverse":true,"nice":false,"zero":false},"axis":null}}},
 {"mark":{"type":"rule","color":"#8e8e8e","strokeWidth":2},"encoding":{"x":{"datum":-58,"scale":{"domain":[-1881.2,2548.2],"nice":false,"zero":false},"axis":null},"x2":{"datum":58},"y":{"datum":5,"scale":{"domain":[-30.9,25.77],"reverse":true,"nice":false,"zero":false},"axis":null}}},
 {"mark":{"type":"text","text":"MiCe","align":"right","baseline":"alphabetic","dx":-10,"dy":-3,"fontSize":15,"color":"#8a8a8a"},"encoding":{"x":{"datum":0,"scale":{"domain":[-1881.2,2548.2],"nice":false,"zero":false},"axis":null},"y":{"datum":5,"scale":{"domain":[-30.9,25.77],"reverse":true,"nice":false,"zero":false},"axis":null}}},
 {"mark":{"type":"text","text":"Critical Panel","align":"center","baseline":"alphabetic","fontSize":25.5,"color":"#000000"},"encoding":{"x":{"datum":423,"scale":{"domain":[-1881.2,2548.2],"nice":false,"zero":false},"axis":null},"y":{"datum":-9.87,"scale":{"domain":[-30.9,25.77],"reverse":true,"nice":false,"zero":false},"axis":null}}},
 {"data":{"name":"erp"},"transform":[{"filter":"datum.p === 'MiCe'"},{"fold":["Impoverished","Implied","Expected","Explicit"],"as":["cond","uv"]}],"mark":{"type":"line"},"encoding":{"x":{"field":"t","type":"quantitative","scale":{"domain":[-1881.2,2548.2],"nice":false,"zero":false},"axis":null},"y":{"field":"uv","type":"quantitative","scale":{"domain":[-30.9,25.77],"reverse":true,"nice":false,"zero":false},"axis":null},"color":{"field":"cond","type":"nominal","scale":{"domain":["Impoverished","Implied","Expected","Explicit"],"range":["#000000","#e41a1c","#2ca048","#1f24d6"]},"legend":{"title":null,"orient":"none","legendX":452,"legendY":172,"padding":6,"strokeColor":"#a8a8a8","fillColor":"#ffffff","symbolType":"M0,0H6.3","symbolSize":144,"symbolStrokeWidth":1.8,"labelFontSize":13,"labelColor":"#000000","labelFont":"DejaVu Sans","labelOffset":36,"rowPadding":3}},"strokeDash":{"field":"cond","type":"nominal","scale":{"domain":["Impoverished","Implied","Expected","Explicit"],"range":[[1,0],[5,2,1.5,2],[4,3],[1.6,1.6]]},"legend":{"title":null,"orient":"none","legendX":452,"legendY":172,"padding":6,"strokeColor":"#a8a8a8","fillColor":"#ffffff","symbolType":"M0,0H6.3","symbolSize":144,"symbolStrokeWidth":1.8,"labelFontSize":13,"labelColor":"#000000","labelFont":"DejaVu Sans","labelOffset":36,"rowPadding":3}}}}
]},
{"data":{"values":[{}]},"layer":[
 {"data":{"name":"ticks"},"mark":{"type":"rule","color":"#8e8e8e","strokeWidth":2},"encoding":{"x":{"field":"t","type":"quantitative","scale":{"domain":[-711.4,3718.0],"nice":false,"zero":false},"axis":null},"y":{"datum":-0.75,"scale":{"domain":[-39.04,17.63],"reverse":true,"nice":false,"zero":false},"axis":null},"y2":{"datum":0.75}}},
 {"mark":{"type":"rule","color":"#8e8e8e","strokeWidth":2},"encoding":{"x":{"datum":-200,"scale":{"domain":[-711.4,3718.0],"nice":false,"zero":false},"axis":null},"x2":{"datum":1000},"y":{"datum":0,"scale":{"domain":[-39.04,17.63],"reverse":true,"nice":false,"zero":false},"axis":null}}},
 {"mark":{"type":"rule","color":"#8e8e8e","strokeWidth":2},"encoding":{"x":{"datum":0,"scale":{"domain":[-711.4,3718.0],"nice":false,"zero":false},"axis":null},"y":{"datum":-5,"scale":{"domain":[-39.04,17.63],"reverse":true,"nice":false,"zero":false},"axis":null},"y2":{"datum":5}}},
 {"mark":{"type":"rule","color":"#8e8e8e","strokeWidth":2},"encoding":{"x":{"datum":-58,"scale":{"domain":[-711.4,3718.0],"nice":false,"zero":false},"axis":null},"x2":{"datum":58},"y":{"datum":-5,"scale":{"domain":[-39.04,17.63],"reverse":true,"nice":false,"zero":false},"axis":null}}},
 {"mark":{"type":"rule","color":"#8e8e8e","strokeWidth":2},"encoding":{"x":{"datum":-58,"scale":{"domain":[-711.4,3718.0],"nice":false,"zero":false},"axis":null},"x2":{"datum":58},"y":{"datum":5,"scale":{"domain":[-39.04,17.63],"reverse":true,"nice":false,"zero":false},"axis":null}}},
 {"mark":{"type":"text","text":"LMCe","align":"right","baseline":"alphabetic","dx":-10,"dy":1,"fontSize":15,"color":"#8a8a8a"},"encoding":{"x":{"datum":0,"scale":{"domain":[-711.4,3718.0],"nice":false,"zero":false},"axis":null},"y":{"datum":5,"scale":{"domain":[-39.04,17.63],"reverse":true,"nice":false,"zero":false},"axis":null}}},
 {"data":{"name":"erp"},"transform":[{"filter":"datum.p === 'LMCe'"},{"fold":["Impoverished","Implied","Expected","Explicit"],"as":["cond","uv"]}],"mark":{"type":"line"},"encoding":{"x":{"field":"t","type":"quantitative","scale":{"domain":[-711.4,3718.0],"nice":false,"zero":false},"axis":null},"y":{"field":"uv","type":"quantitative","scale":{"domain":[-39.04,17.63],"reverse":true,"nice":false,"zero":false},"axis":null},"color":{"field":"cond","type":"nominal","scale":{"domain":["Impoverished","Implied","Expected","Explicit"],"range":["#000000","#e41a1c","#2ca048","#1f24d6"]},"legend":{"title":null,"orient":"none","legendX":452,"legendY":172,"padding":6,"strokeColor":"#a8a8a8","fillColor":"#ffffff","symbolType":"M0,0H6.3","symbolSize":144,"symbolStrokeWidth":1.8,"labelFontSize":13,"labelColor":"#000000","labelFont":"DejaVu Sans","labelOffset":36,"rowPadding":3}},"strokeDash":{"field":"cond","type":"nominal","scale":{"domain":["Impoverished","Implied","Expected","Explicit"],"range":[[1,0],[5,2,1.5,2],[4,3],[1.6,1.6]]},"legend":{"title":null,"orient":"none","legendX":452,"legendY":172,"padding":6,"strokeColor":"#a8a8a8","fillColor":"#ffffff","symbolType":"M0,0H6.3","symbolSize":144,"symbolStrokeWidth":1.8,"labelFontSize":13,"labelColor":"#000000","labelFont":"DejaVu Sans","labelOffset":36,"rowPadding":3}}}}
]},
{"data":{"values":[{}]},"layer":[
 {"data":{"name":"ticks"},"mark":{"type":"rule","color":"#8e8e8e","strokeWidth":2},"encoding":{"x":{"field":"t","type":"quantitative","scale":{"domain":[-3129.4,1300.0],"nice":false,"zero":false},"axis":null},"y":{"datum":-0.75,"scale":{"domain":[-39.4,17.27],"reverse":true,"nice":false,"zero":false},"axis":null},"y2":{"datum":0.75}}},
 {"mark":{"type":"rule","color":"#8e8e8e","strokeWidth":2},"encoding":{"x":{"datum":-200,"scale":{"domain":[-3129.4,1300.0],"nice":false,"zero":false},"axis":null},"x2":{"datum":1000},"y":{"datum":0,"scale":{"domain":[-39.4,17.27],"reverse":true,"nice":false,"zero":false},"axis":null}}},
 {"mark":{"type":"rule","color":"#8e8e8e","strokeWidth":2},"encoding":{"x":{"datum":0,"scale":{"domain":[-3129.4,1300.0],"nice":false,"zero":false},"axis":null},"y":{"datum":-5,"scale":{"domain":[-39.4,17.27],"reverse":true,"nice":false,"zero":false},"axis":null},"y2":{"datum":5}}},
 {"mark":{"type":"rule","color":"#8e8e8e","strokeWidth":2},"encoding":{"x":{"datum":-58,"scale":{"domain":[-3129.4,1300.0],"nice":false,"zero":false},"axis":null},"x2":{"datum":58},"y":{"datum":-5,"scale":{"domain":[-39.4,17.27],"reverse":true,"nice":false,"zero":false},"axis":null}}},
 {"mark":{"type":"rule","color":"#8e8e8e","strokeWidth":2},"encoding":{"x":{"datum":-58,"scale":{"domain":[-3129.4,1300.0],"nice":false,"zero":false},"axis":null},"x2":{"datum":58},"y":{"datum":5,"scale":{"domain":[-39.4,17.27],"reverse":true,"nice":false,"zero":false},"axis":null}}},
 {"mark":{"type":"text","text":"RMCe","align":"right","baseline":"alphabetic","dx":-11.5,"dy":1,"fontSize":15,"color":"#8a8a8a"},"encoding":{"x":{"datum":0,"scale":{"domain":[-3129.4,1300.0],"nice":false,"zero":false},"axis":null},"y":{"datum":5,"scale":{"domain":[-39.4,17.27],"reverse":true,"nice":false,"zero":false},"axis":null}}},
 {"data":{"name":"erp"},"transform":[{"filter":"datum.p === 'RMCe'"},{"fold":["Impoverished","Implied","Expected","Explicit"],"as":["cond","uv"]}],"mark":{"type":"line"},"encoding":{"x":{"field":"t","type":"quantitative","scale":{"domain":[-3129.4,1300.0],"nice":false,"zero":false},"axis":null},"y":{"field":"uv","type":"quantitative","scale":{"domain":[-39.4,17.27],"reverse":true,"nice":false,"zero":false},"axis":null},"color":{"field":"cond","type":"nominal","scale":{"domain":["Impoverished","Implied","Expected","Explicit"],"range":["#000000","#e41a1c","#2ca048","#1f24d6"]},"legend":{"title":null,"orient":"none","legendX":452,"legendY":172,"padding":6,"strokeColor":"#a8a8a8","fillColor":"#ffffff","symbolType":"M0,0H6.3","symbolSize":144,"symbolStrokeWidth":1.8,"labelFontSize":13,"labelColor":"#000000","labelFont":"DejaVu Sans","labelOffset":36,"rowPadding":3}},"strokeDash":{"field":"cond","type":"nominal","scale":{"domain":["Impoverished","Implied","Expected","Explicit"],"range":[[1,0],[5,2,1.5,2],[4,3],[1.6,1.6]]},"legend":{"title":null,"orient":"none","legendX":452,"legendY":172,"padding":6,"strokeColor":"#a8a8a8","fillColor":"#ffffff","symbolType":"M0,0H6.3","symbolSize":144,"symbolStrokeWidth":1.8,"labelFontSize":13,"labelColor":"#000000","labelFont":"DejaVu Sans","labelOffset":36,"rowPadding":3}}}},
 {"mark":{"type":"rule","color":"#9c9674","strokeWidth":6,"strokeCap":"round"},"encoding":{"x":{"datum":294.6,"scale":{"domain":[-3129.4,1300.0],"nice":false,"zero":false},"axis":null},"x2":{"datum":441.5},"y":{"datum":8.81,"scale":{"domain":[-39.4,17.27],"reverse":true,"nice":false,"zero":false},"axis":null},"y2":{"datum":5.24}}},
 {"mark":{"type":"rule","color":"#9c9674","strokeWidth":6,"strokeCap":"round"},"encoding":{"x":{"datum":-47.8,"scale":{"domain":[-3129.4,1300.0],"nice":false,"zero":false},"axis":null},"x2":{"datum":-191.9},"y":{"datum":12.53,"scale":{"domain":[-39.4,17.27],"reverse":true,"nice":false,"zero":false},"axis":null},"y2":{"datum":13.28}}},
 {"mark":{"type":"rule","color":"#f4e66c","strokeWidth":4,"strokeCap":"round"},"encoding":{"x":{"datum":294.6,"scale":{"domain":[-3129.4,1300.0],"nice":false,"zero":false},"axis":null},"x2":{"datum":441.5},"y":{"datum":8.81,"scale":{"domain":[-39.4,17.27],"reverse":true,"nice":false,"zero":false},"axis":null},"y2":{"datum":5.24}}},
 {"mark":{"type":"rule","color":"#f4e66c","strokeWidth":4,"strokeCap":"round"},"encoding":{"x":{"datum":-47.8,"scale":{"domain":[-3129.4,1300.0],"nice":false,"zero":false},"axis":null},"x2":{"datum":-191.9},"y":{"datum":12.53,"scale":{"domain":[-39.4,17.27],"reverse":true,"nice":false,"zero":false},"axis":null},"y2":{"datum":13.28}}},
 {"mark":{"type":"point","shape":"triangle-up","filled":true,"size":130,"angle":36.6,"fill":"#f4e66c","stroke":"#9c9674","strokeWidth":1,"opacity":1},"encoding":{"x":{"datum":441.5,"scale":{"domain":[-3129.4,1300.0],"nice":false,"zero":false},"axis":null},"y":{"datum":5.24,"scale":{"domain":[-39.4,17.27],"reverse":true,"nice":false,"zero":false},"axis":null}}},
 {"mark":{"type":"point","shape":"triangle-up","filled":true,"size":130,"angle":254.4,"fill":"#f4e66c","stroke":"#9c9674","strokeWidth":1,"opacity":1},"encoding":{"x":{"datum":-191.9,"scale":{"domain":[-3129.4,1300.0],"nice":false,"zero":false},"axis":null},"y":{"datum":13.28,"scale":{"domain":[-39.4,17.27],"reverse":true,"nice":false,"zero":false},"axis":null}}},
 {"mark":{"type":"rect","color":"#bdbdbd","opacity":0.8},"encoding":{"x":{"datum":-33.4,"scale":{"domain":[-3129.4,1300.0],"nice":false,"zero":false},"axis":null},"x2":{"datum":494.3},"y":{"datum":9.19,"scale":{"domain":[-39.4,17.27],"reverse":true,"nice":false,"zero":false},"axis":null},"y2":{"datum":14.19}}},
 {"mark":{"type":"rect","fill":"#faf09a","stroke":"#d9cf7a","strokeWidth":0.6},"encoding":{"x":{"datum":-54.9,"scale":{"domain":[-3129.4,1300.0],"nice":false,"zero":false},"axis":null},"x2":{"datum":472.9},"y":{"datum":8.81,"scale":{"domain":[-39.4,17.27],"reverse":true,"nice":false,"zero":false},"axis":null},"y2":{"datum":13.81}}},
 {"mark":{"type":"text","text":["Posterior","positivity"],"align":"center","baseline":"middle","fontSize":13,"lineHeight":14,"color":"#222222"},"encoding":{"x":{"datum":209,"scale":{"domain":[-3129.4,1300.0],"nice":false,"zero":false},"axis":null},"y":{"datum":11.44,"scale":{"domain":[-39.4,17.27],"reverse":true,"nice":false,"zero":false},"axis":null}}}
]},
{"data":{"values":[{}]},"layer":[
 {"data":{"name":"ticks"},"mark":{"type":"rule","color":"#8e8e8e","strokeWidth":2},"encoding":{"x":{"field":"t","type":"quantitative","scale":{"domain":[-1876.2,2553.2],"nice":false,"zero":false},"axis":null},"y":{"datum":-0.75,"scale":{"domain":[-49.27,7.4],"reverse":true,"nice":false,"zero":false},"axis":null},"y2":{"datum":0.75}}},
 {"mark":{"type":"rule","color":"#8e8e8e","strokeWidth":2},"encoding":{"x":{"datum":-200,"scale":{"domain":[-1876.2,2553.2],"nice":false,"zero":false},"axis":null},"x2":{"datum":1000},"y":{"datum":0,"scale":{"domain":[-49.27,7.4],"reverse":true,"nice":false,"zero":false},"axis":null}}},
 {"mark":{"type":"rule","color":"#8e8e8e","strokeWidth":2},"encoding":{"x":{"datum":0,"scale":{"domain":[-1876.2,2553.2],"nice":false,"zero":false},"axis":null},"y":{"datum":-5,"scale":{"domain":[-49.27,7.4],"reverse":true,"nice":false,"zero":false},"axis":null},"y2":{"datum":5}}},
 {"mark":{"type":"rule","color":"#8e8e8e","strokeWidth":2},"encoding":{"x":{"datum":-58,"scale":{"domain":[-1876.2,2553.2],"nice":false,"zero":false},"axis":null},"x2":{"datum":58},"y":{"datum":-5,"scale":{"domain":[-49.27,7.4],"reverse":true,"nice":false,"zero":false},"axis":null}}},
 {"mark":{"type":"rule","color":"#8e8e8e","strokeWidth":2},"encoding":{"x":{"datum":-58,"scale":{"domain":[-1876.2,2553.2],"nice":false,"zero":false},"axis":null},"x2":{"datum":58},"y":{"datum":5,"scale":{"domain":[-49.27,7.4],"reverse":true,"nice":false,"zero":false},"axis":null}}},
 {"mark":{"type":"text","text":"MiPa","align":"right","baseline":"alphabetic","dx":-8,"dy":2,"fontSize":15,"color":"#8a8a8a"},"encoding":{"x":{"datum":0,"scale":{"domain":[-1876.2,2553.2],"nice":false,"zero":false},"axis":null},"y":{"datum":5,"scale":{"domain":[-49.27,7.4],"reverse":true,"nice":false,"zero":false},"axis":null}}},
 {"data":{"name":"erp"},"transform":[{"filter":"datum.p === 'MiPa'"},{"fold":["Impoverished","Implied","Expected","Explicit"],"as":["cond","uv"]}],"mark":{"type":"line"},"encoding":{"x":{"field":"t","type":"quantitative","scale":{"domain":[-1876.2,2553.2],"nice":false,"zero":false},"axis":null},"y":{"field":"uv","type":"quantitative","scale":{"domain":[-49.27,7.4],"reverse":true,"nice":false,"zero":false},"axis":null},"color":{"field":"cond","type":"nominal","scale":{"domain":["Impoverished","Implied","Expected","Explicit"],"range":["#000000","#e41a1c","#2ca048","#1f24d6"]},"legend":{"title":null,"orient":"none","legendX":452,"legendY":172,"padding":6,"strokeColor":"#a8a8a8","fillColor":"#ffffff","symbolType":"M0,0H6.3","symbolSize":144,"symbolStrokeWidth":1.8,"labelFontSize":13,"labelColor":"#000000","labelFont":"DejaVu Sans","labelOffset":36,"rowPadding":3}},"strokeDash":{"field":"cond","type":"nominal","scale":{"domain":["Impoverished","Implied","Expected","Explicit"],"range":[[1,0],[5,2,1.5,2],[4,3],[1.6,1.6]]},"legend":{"title":null,"orient":"none","legendX":452,"legendY":172,"padding":6,"strokeColor":"#a8a8a8","fillColor":"#ffffff","symbolType":"M0,0H6.3","symbolSize":144,"symbolStrokeWidth":1.8,"labelFontSize":13,"labelColor":"#000000","labelFont":"DejaVu Sans","labelOffset":36,"rowPadding":3}}}}
]},
{"data":{"values":[{}]},"layer":[
 {"data":{"name":"ticks"},"transform":[{"filter":"datum.t > 0 && datum.t < 1000"}],"mark":{"type":"rule","color":"#8e8e8e","strokeWidth":2},"encoding":{"x":{"field":"t","type":"quantitative","scale":{"domain":[-314.1,4115.3],"nice":false,"zero":false},"axis":null},"y":{"datum":-0.75,"scale":{"domain":[-27.5,29.17],"reverse":true,"nice":false,"zero":false},"axis":null},"y2":{"datum":0.75}}},
 {"data":{"name":"ticks"},"transform":[{"filter":"datum.t < 0 || datum.t >= 1000"}],"mark":{"type":"rule","color":"#e4e4e4","strokeWidth":1.5},"encoding":{"x":{"field":"t","type":"quantitative","scale":{"domain":[-314.1,4115.3],"nice":false,"zero":false},"axis":null},"y":{"datum":-0.75,"scale":{"domain":[-27.5,29.17],"reverse":true,"nice":false,"zero":false},"axis":null},"y2":{"datum":0.75}}},
 {"mark":{"type":"rule","color":"#8e8e8e","strokeWidth":2},"encoding":{"x":{"datum":-200,"scale":{"domain":[-314.1,4115.3],"nice":false,"zero":false},"axis":null},"x2":{"datum":1000},"y":{"datum":0,"scale":{"domain":[-27.5,29.17],"reverse":true,"nice":false,"zero":false},"axis":null}}},
 {"mark":{"type":"rule","color":"#8e8e8e","strokeWidth":2},"encoding":{"x":{"datum":0,"scale":{"domain":[-314.1,4115.3],"nice":false,"zero":false},"axis":null},"y":{"datum":-5,"scale":{"domain":[-27.5,29.17],"reverse":true,"nice":false,"zero":false},"axis":null},"y2":{"datum":5}}},
 {"mark":{"type":"rule","color":"#8e8e8e","strokeWidth":2},"encoding":{"x":{"datum":-58,"scale":{"domain":[-314.1,4115.3],"nice":false,"zero":false},"axis":null},"x2":{"datum":58},"y":{"datum":-5,"scale":{"domain":[-27.5,29.17],"reverse":true,"nice":false,"zero":false},"axis":null}}},
 {"mark":{"type":"rule","color":"#8e8e8e","strokeWidth":2},"encoding":{"x":{"datum":-58,"scale":{"domain":[-314.1,4115.3],"nice":false,"zero":false},"axis":null},"x2":{"datum":58},"y":{"datum":5,"scale":{"domain":[-27.5,29.17],"reverse":true,"nice":false,"zero":false},"axis":null}}},
 {"data":{"name":"ticks"},"transform":[{"filter":"datum.t > 0 && datum.t < 1000"}],"mark":{"type":"text","fontSize":10.5,"color":"#555555","baseline":"middle","align":"center"},"encoding":{"x":{"field":"t","type":"quantitative","scale":{"domain":[-314.1,4115.3],"nice":false,"zero":false},"axis":null},"y":{"datum":-2,"scale":{"domain":[-27.5,29.17],"reverse":true,"nice":false,"zero":false},"axis":null},"text":{"field":"t","type":"quantitative"}}},
 {"mark":{"type":"text","text":"−","align":"center","baseline":"middle","fontSize":17,"color":"#777777"},"encoding":{"x":{"datum":-143,"scale":{"domain":[-314.1,4115.3],"nice":false,"zero":false},"axis":null},"y":{"datum":-4.55,"scale":{"domain":[-27.5,29.17],"reverse":true,"nice":false,"zero":false},"axis":null}}},
 {"mark":{"type":"text","text":"+","align":"center","baseline":"middle","fontSize":17,"color":"#777777"},"encoding":{"x":{"datum":-143,"scale":{"domain":[-314.1,4115.3],"nice":false,"zero":false},"axis":null},"y":{"datum":4.04,"scale":{"domain":[-27.5,29.17],"reverse":true,"nice":false,"zero":false},"axis":null}}},
 {"mark":{"type":"text","text":"5μv","align":"left","baseline":"middle","fontSize":15,"color":"#777777"},"encoding":{"x":{"datum":66,"scale":{"domain":[-314.1,4115.3],"nice":false,"zero":false},"axis":null},"y":{"datum":4.04,"scale":{"domain":[-27.5,29.17],"reverse":true,"nice":false,"zero":false},"axis":null}}}
]}
]
}
